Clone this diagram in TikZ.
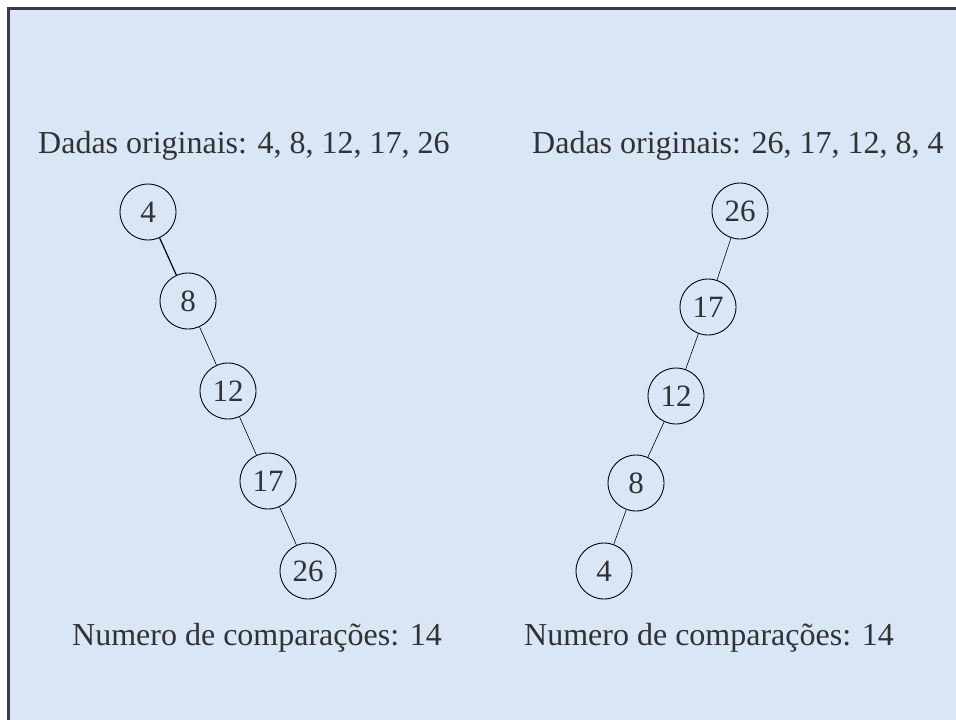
\documentclass[tikz,border=0pt]{standalone}
\usepackage{fontspec}
\setmainfont{Liberation Serif}
\definecolor{bgblue}{RGB}{216,230,246}
\definecolor{txtgray}{RGB}{50,50,50}
\definecolor{framegray}{RGB}{60,60,64}
\begin{document}
\begin{tikzpicture}[x=1pt,y=-1pt,
  treenode/.style={circle,draw=black,line width=0.9pt,minimum size=56pt,inner sep=0pt,
    text=txtgray,font=\fontsize{31}{36}\selectfont},
  caption/.style={anchor=base west,inner sep=0pt,text=txtgray,font=\fontsize{32}{38}\selectfont},
  edge/.style={draw=black,line width=0.6pt},
  thickedge/.style={draw=black,line width=1.2pt}]
\useasboundingbox (0,0) rectangle (956,720);
\fill[white] (0,0) rectangle (956,720);
\fill[bgblue] (8,8) rectangle (956,720);
\draw[framegray,line width=3pt] (8,720) -- (8,8) -- (956,8);

% headings
\node[caption] (hl) at (38,153) {Dadas originais: 4, 8, 12, 17, 26};
\node[caption] (hr) at (532,153) {Dadas originais: 26, 17, 12, 8, 4};

% left tree
\node[treenode] (l4)  at (148,212) {4};
\node[treenode] (l8)  at (188,301) {8};
\node[treenode] (l12) at (228,391) {12};
\node[treenode] (l17) at (268,481) {17};
\node[treenode] (l26) at (308,571) {26};
\draw[thickedge] (l4) -- (l8);
\draw[edge] (l8) -- (l12);
\draw[edge] (l12) -- (l17);
\draw[edge] (l17) -- (l26);

% right tree
\node[treenode] (r26) at (740,211) {26};
\node[treenode] (r17) at (708,307) {17};
\node[treenode] (r12) at (676,396) {12};
\node[treenode] (r8)  at (636,483) {8};
\node[treenode] (r4)  at (604,571) {4};
\draw[edge] (r26) -- (r17);
\draw[edge] (r17) -- (r12);
\draw[edge] (r12) -- (r8);
\draw[edge] (r8) -- (r4);

% bottom captions
\node[caption] (bl) at (72,645) {Numero de comparações: 14};
\node[caption] (br) at (524,645) {Numero de comparações: 14};
\end{tikzpicture}
\end{document}
